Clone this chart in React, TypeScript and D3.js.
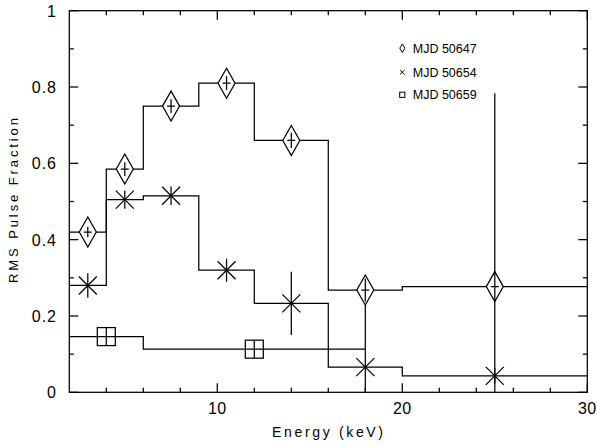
import React from "react";
import * as d3 from "d3";

// ---- data ----
const binEdges = [2, 4, 6, 9, 12, 16, 20, 30];
const diamondX = [3, 5, 7.5, 10.5, 14, 18, 25];
const diamondValues = [0.42, 0.585, 0.75, 0.81, 0.66, 0.268, 0.277];
const diamondErr = [0.014, 0.018, 0.018, 0.018, 0.02, 0.03, 0.507];
const crossX = [3, 5, 7.5, 10.5, 14, 18, 25];
const crossValues = [0.28, 0.505, 0.515, 0.32, 0.233, 0.066, 0.043];
const crossErr = [0.032, 0.024, 0.024, 0.03, 0.083, 0.2, 0.02];
const squareEdges = [2, 6, 18];
const squareX = [4, 12];
const squareValues = [0.146, 0.113];
const squareErr = [0.023, 0.023];
const legendLabels = ["MJD 50647", "MJD 50654", "MJD 50659"];
const xMajorTicks = [10, 20, 30];
const yMajorTicks = [0, 0.2, 0.4, 0.6, 0.8, 1];

const W = 597;
const H = 447;
const L = 69.3, R = 587.3, T = 10.7, B = 392.3;

export default function App() {
  const x = d3.scaleLinear().domain([2, 30]).range([L, R]);
  const y = d3.scaleLinear().domain([0, 1]).range([B, T]);
  const font = "'Liberation Sans', Arial, sans-serif";
  const sw = 1.25;

  const stepLine = (edges: number[], vals: number[]) => {
    const pts: [number, number][] = edges.map((e, i) => [e, vals[Math.min(i, vals.length - 1)]]);
    return d3.line<[number, number]>().x((d) => x(d[0])).y((d) => y(d[1])).curve(d3.curveStepAfter)(pts) || "";
  };

  const xMinor = d3.range(4, 30, 2).filter((v) => v % 10 !== 0);
  const yMinor = d3.range(1, 10).map((v) => v / 10).filter((v) => Math.round(v * 10) % 2 === 1);
  const minorLen = 4.5, majorLen = 9;

  const diamond = (cx: number, cy: number, hw: number, hh: number) =>
    `M${cx},${cy - hh}L${cx + hw},${cy}L${cx},${cy + hh}L${cx - hw},${cy}Z`;

  return (
    <svg width={W} height={H} style={{ position: "absolute", left: 0, top: 0, background: "#fff" }}>
      <defs>
        <clipPath id="plot">
          <rect x={L} y={T} width={R - L} height={B - T} />
        </clipPath>
      </defs>
      <rect x={0} y={0} width={W} height={H} fill="#fff" />
      {/* frame */}
      <rect x={L} y={T} width={R - L} height={B - T} fill="none" stroke="#000" strokeWidth={sw} />
      {/* ticks */}
      <g stroke="#000" strokeWidth={sw}>
        {xMinor.map((v) => (
          <g key={"xm" + v}>
            <line x1={x(v)} x2={x(v)} y1={B} y2={B - minorLen} />
            <line x1={x(v)} x2={x(v)} y1={T} y2={T + minorLen} />
          </g>
        ))}
        {xMajorTicks.map((v) => (
          <g key={"xM" + v}>
            <line x1={x(v)} x2={x(v)} y1={B} y2={B - majorLen} />
            <line x1={x(v)} x2={x(v)} y1={T} y2={T + majorLen} />
          </g>
        ))}
        {yMinor.map((v) => (
          <g key={"ym" + v}>
            <line x1={L} x2={L + minorLen} y1={y(v)} y2={y(v)} />
            <line x1={R} x2={R - minorLen} y1={y(v)} y2={y(v)} />
          </g>
        ))}
        {yMajorTicks.map((v) => (
          <g key={"yM" + v}>
            <line x1={L} x2={L + majorLen} y1={y(v)} y2={y(v)} />
            <line x1={R} x2={R - majorLen} y1={y(v)} y2={y(v)} />
          </g>
        ))}
      </g>
      {/* tick labels */}
      <g fontFamily={font} fontSize={16} fill="#000">
        {xMajorTicks.map((v) => (
          <text key={"xl" + v} x={x(v)} y={414} textAnchor="middle" letterSpacing={0.5}>
            {v}
          </text>
        ))}
        {yMajorTicks.map((v) => (
          <text key={"yl" + v} x={57} y={y(v) + 6} textAnchor="end" letterSpacing={1}>
            {v === 0 || v === 1 ? String(v) : String(v)}
          </text>
        ))}
      </g>
      {/* axis labels */}
      <text x={327.5} y={437.3} fontFamily={font} fontSize={14} textAnchor="middle" textLength={111} lengthAdjust="spacing">
        Energy (keV)
      </text>
      <text
        transform={`translate(17.5,200.5) rotate(-90)`}
        fontFamily={font}
        fontSize={13}
        textAnchor="middle"
        textLength={165}
        lengthAdjust="spacing"
      >
        RMS Pulse Fraction
      </text>

      <g clipPath="url(#plot)" fill="none" stroke="#000" strokeWidth={sw}>
        {/* histograms */}
        <path d={stepLine(binEdges, diamondValues)} />
        <path d={stepLine(binEdges, crossValues)} />
        <path d={stepLine(squareEdges, squareValues)} />

        {/* cross series */}
        {crossX.map((cx, i) => {
          const px = x(cx), py = y(crossValues[i]);
          return (
            <g key={"c" + i}>
              <line x1={px} x2={px} y1={y(crossValues[i] + crossErr[i])} y2={y(crossValues[i] - crossErr[i])} />
              <line x1={px - 9} x2={px + 9} y1={py - 9} y2={py + 9} />
              <line x1={px - 9} x2={px + 9} y1={py + 9} y2={py - 9} />
            </g>
          );
        })}

        {/* square series */}
        {squareX.map((sx, i) => {
          const px = x(sx), py = y(squareValues[i]);
          return (
            <g key={"s" + i}>
              <rect x={px - 9} y={py - 9} width={18} height={18} />
              <line x1={px} x2={px} y1={y(squareValues[i] + squareErr[i])} y2={y(squareValues[i] - squareErr[i])} />
            </g>
          );
        })}

        {/* diamond series */}
        {diamondX.map((dx, i) => {
          const px = x(dx), py = y(diamondValues[i]);
          return (
            <g key={"d" + i}>
              <path d={diamond(px, py, 8.5, 15)} fill="#fff" />
              <line x1={px} x2={px} y1={y(diamondValues[i] + diamondErr[i])} y2={y(diamondValues[i] - diamondErr[i])} />
              <line x1={px - 4} x2={px + 4} y1={py} y2={py} />
            </g>
          );
        })}
      </g>

      {/* legend */}
      <g fontFamily={font} fontSize={12.5} fill="#000">
        {legendLabels.map((lab, i) => {
          const by = [52.7, 76.7, 99.3][i];
          const cy = by - 4.5;
          const sx = 402.3;
          return (
            <g key={"lg" + i}>
              {i === 0 && <path d={diamond(sx, cy, 2.5, 4.3)} fill="none" stroke="#000" strokeWidth={1} />}
              {i === 1 && (
                <g stroke="#000" strokeWidth={1}>
                  <line x1={sx - 2.2} x2={sx + 2.2} y1={cy - 2.2} y2={cy + 2.2} />
                  <line x1={sx - 2.2} x2={sx + 2.2} y1={cy + 2.2} y2={cy - 2.2} />
                </g>
              )}
              {i === 2 && <rect x={sx - 2.6} y={cy - 2.6} width={5.2} height={5.2} fill="none" stroke="#000" strokeWidth={1} />}
              <text x={412.7} y={by} textLength={64} lengthAdjust="spacing">
                {lab}
              </text>
            </g>
          );
        })}
      </g>
    </svg>
  );
}
